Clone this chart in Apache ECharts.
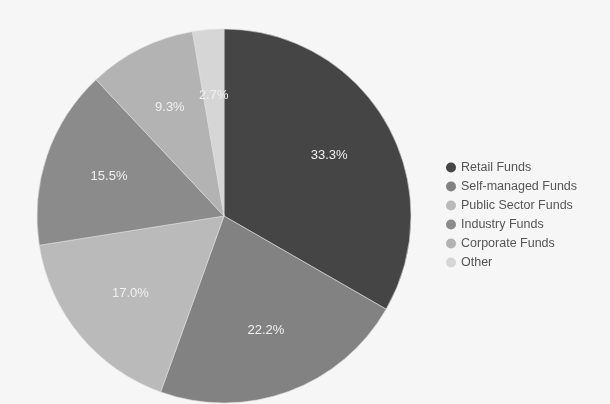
<!DOCTYPE html>
<html>
<head>
<meta charset="utf-8">
<script src="https://cdn.jsdelivr.net/npm/echarts@6/dist/echarts.min.js"></script>
<style>
html,body{margin:0;padding:0;background:#f6f6f6;}
#c{width:610px;height:404px;}
</style>
</head>
<body>
<div id="c"></div>
<script>
const categories = ["Retail Funds", "Self-managed Funds", "Public Sector Funds", "Industry Funds", "Corporate Funds", "Other"];
const values = [33.3, 22.2, 17.0, 15.5, 9.3, 2.7];
const colors = ["#454545", "#828282", "#bababa", "#8b8b8b", "#b3b3b3", "#d6d6d6"];

const data = categories.map((n, i) => ({ name: n, value: values[i], itemStyle: { color: colors[i] } }));
const labelData = categories.map((n, i) => ({ name: n, value: values[i] }));

const chart = echarts.init(document.getElementById('c'), null, { renderer: 'canvas' });
chart.setOption({
  backgroundColor: '#f6f6f6',
  animation: false,
  legend: {
    orient: 'vertical',
    left: 441,
    top: 156,
    itemWidth: 10,
    itemHeight: 10,
    itemGap: 6,
    icon: 'circle',
    itemStyle: { borderWidth: 0 },
    data: categories,
    textStyle: { color: '#555', fontSize: 12.5, fontFamily: 'Liberation Sans, Arial, sans-serif' }
  },
  series: [
    {
      type: 'pie',
      center: [224, 216],
      radius: [0, 187],
      startAngle: 90,
      clockwise: true,
      label: { show: false },
      labelLine: { show: false },
      itemStyle: { borderColor: '#dcdcdc', borderWidth: 0.6 },
      emphasis: { disabled: true },
      data: data
    },
    {
      type: 'pie',
      center: [224, 216],
      radius: [50, 187],
      startAngle: 90,
      clockwise: true,
      silent: true,
      legendHoverLink: false,
      itemStyle: { color: 'rgba(0,0,0,0)' },
      label: {
        show: true,
        position: 'inside',
        color: '#f0f0f0',
        fontSize: 13,
        fontFamily: 'Liberation Sans, Arial, sans-serif',
        formatter: p => p.value.toFixed(1) + '%'
      },
      labelLine: { show: false },
      emphasis: { disabled: true },
      data: labelData.map(d => ({ name: d.name + ' ', value: d.value }))
    }
  ]
});
</script>
</body>
</html>
